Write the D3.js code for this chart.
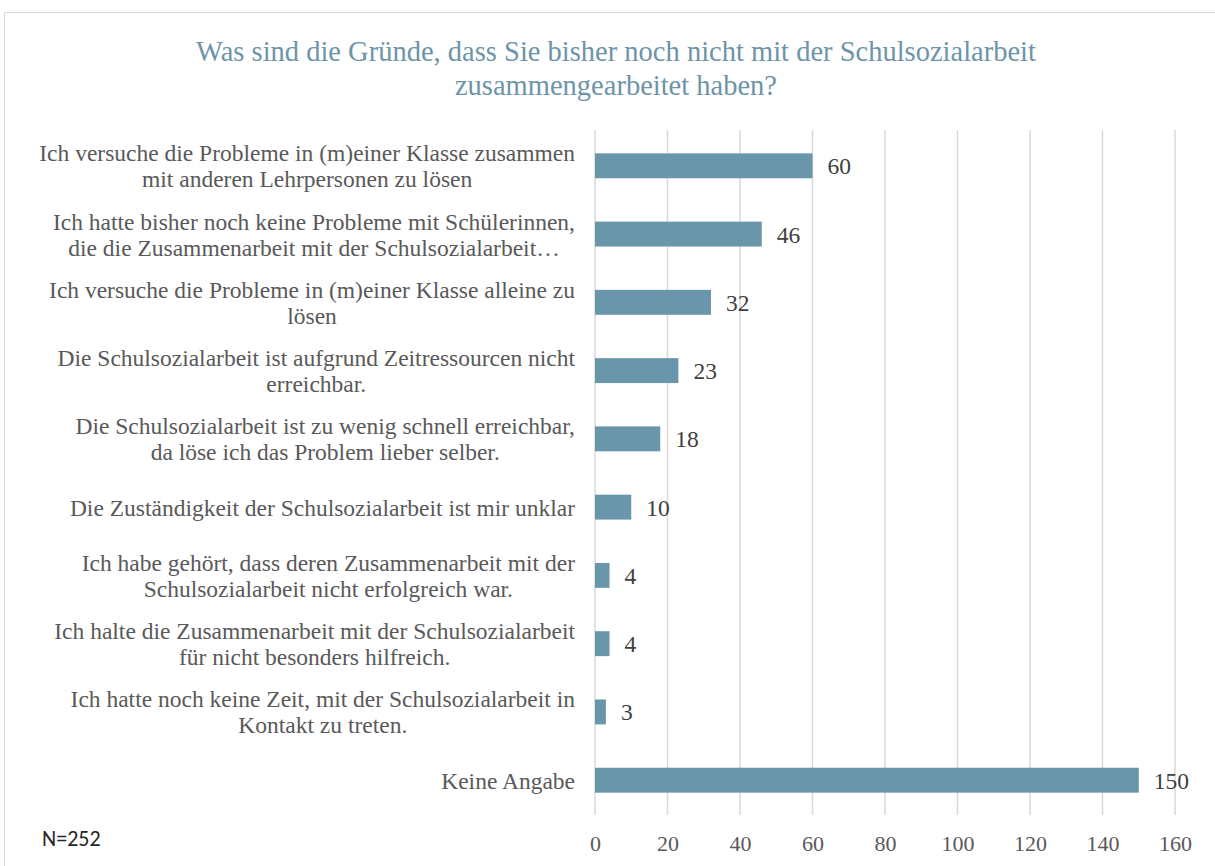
<!DOCTYPE html>
<html>
<head>
<meta charset="utf-8">
<script src="https://cdn.jsdelivr.net/npm/d3@7"></script>
<style>
  body { margin: 0; background: #fff; }
  svg text { font-family: "Liberation Serif", "Times New Roman", serif; }
</style>
</head>
<body>
<div id="chart"></div>
<script>
const categories = [
  'Ich versuche die Probleme in (m)einer Klasse zusammen\nmit anderen Lehrpersonen zu lösen',
  'Ich hatte bisher noch keine Probleme mit Schülerinnen,\ndie die Zusammenarbeit mit der Schulsozialarbeit…',
  'Ich versuche die Probleme in (m)einer Klasse alleine zu\nlösen',
  'Die Schulsozialarbeit ist aufgrund Zeitressourcen nicht\nerreichbar.',
  'Die Schulsozialarbeit ist zu wenig schnell erreichbar,\nda löse ich das Problem lieber selber.',
  'Die Zuständigkeit der Schulsozialarbeit ist mir unklar',
  'Ich habe gehört, dass deren Zusammenarbeit mit der\nSchulsozialarbeit nicht erfolgreich war.',
  'Ich halte die Zusammenarbeit mit der Schulsozialarbeit\nfür nicht besonders hilfreich.',
  'Ich hatte noch keine Zeit, mit der Schulsozialarbeit in\nKontakt zu treten.',
  'Keine Angabe'
]
const values = [60, 46, 32, 23, 18, 10, 4, 4, 3, 150]
const ticks = [0, 20, 40, 60, 80, 100, 120, 140, 160]
const titleLines = [
  'Was sind die Gründe, dass Sie bisher noch nicht mit der Schulsozialarbeit',
  'zusammengearbeitet haben?'
]
const note = 'N=252'

const width = 1215
const height = 866
const barColor = '#6996aa'

const svg = d3.select('#chart')
  .append('svg')
  .attr('width', width)
  .attr('height', height)

// outer chart frame
svg.append('rect')
  .attr('x', 4.5)
  .attr('y', 12.5)
  .attr('width', 1240)
  .attr('height', 900)
  .attr('fill', 'none')
  .attr('stroke', '#d9d9d9')

svg.append('text')
  .attr('text-anchor', 'middle')
  .attr('fill', '#6d94a8')
  .style('font-size', '28.5px')
  .selectAll('tspan')
  .data(titleLines)
  .enter()
  .append('tspan')
  .attr('x', 616)
  .attr('y', (d, i) => 61 + i * 34)
  .text(d => d)

const x = d3.scaleLinear()
  .domain([0, 160])
  .range([595, 1175])

const y = d3.scaleBand()
  .domain(categories)
  .range([131.5, 814.5])
  .paddingInner(0.635)
  .paddingOuter(0.32)

// vertical gridlines
svg.append('g')
  .selectAll('line')
  .data(ticks)
  .enter()
  .append('line')
  .attr('x1', d => x(d))
  .attr('x2', d => x(d))
  .attr('y1', 130)
  .attr('y2', 815)
  .attr('stroke', '#d9d9d9')
  .attr('stroke-width', 1.5)

// axis tick labels
const xAxis = svg.append('g')
  .attr('transform', 'translate(0,835)')
  .call(d3.axisBottom(x).tickValues(ticks).tickSize(0).tickPadding(0))
xAxis.select('.domain').remove()
xAxis.selectAll('text')
  .attr('dy', '0.71em')
  .attr('fill', '#595959')
  .style('font-size', '22px')
  .style('font-family', '"Liberation Serif", serif')

svg.append('g')
  .selectAll('rect')
  .data(values)
  .enter()
  .append('rect')
  .attr('x', x(0))
  .attr('y', (d, i) => y(categories[i]))
  .attr('width', d => x(d) - x(0))
  .attr('height', y.bandwidth())
  .attr('fill', barColor)

svg.append('g')
  .selectAll('text')
  .data(values)
  .enter()
  .append('text')
  .attr('x', d => x(d) + 15)
  .attr('y', (d, i) => y(categories[i]) + y.bandwidth() / 2 + 8.5)
  .attr('fill', '#404040')
  .style('font-size', '23.5px')
  .text(d => d)

// category labels: block right aligned, lines centred inside it
const labelRight = 575
const lh = 26
const labels = svg.append('g')
  .selectAll('g')
  .data(categories)
  .enter()
  .append('g')

labels.each(function(d) {
  const lines = d.split('\n')
  const cy = y(d) + y.bandwidth() / 2
  const texts = d3.select(this).selectAll('text')
    .data(lines)
    .enter()
    .append('text')
    .attr('text-anchor', 'middle')
    .attr('fill', '#595959')
    .style('font-size', '23.5px')
    .attr('y', (l, i) => cy + (i - (lines.length - 1) / 2) * lh + 8.5)
    .text(l => l)
  let maxW = 0
  texts.each(function() { maxW = Math.max(maxW, this.getComputedTextLength()) })
  texts.attr('x', labelRight - maxW / 2)
})

svg.append('text')
  .attr('x', 42)
  .attr('y', 846)
  .attr('fill', '#262626')
  .style('font-family', 'Carlito, "Liberation Sans", sans-serif')
  .style('font-size', '22px')
  .text(note)
</script>
</body>
</html>
